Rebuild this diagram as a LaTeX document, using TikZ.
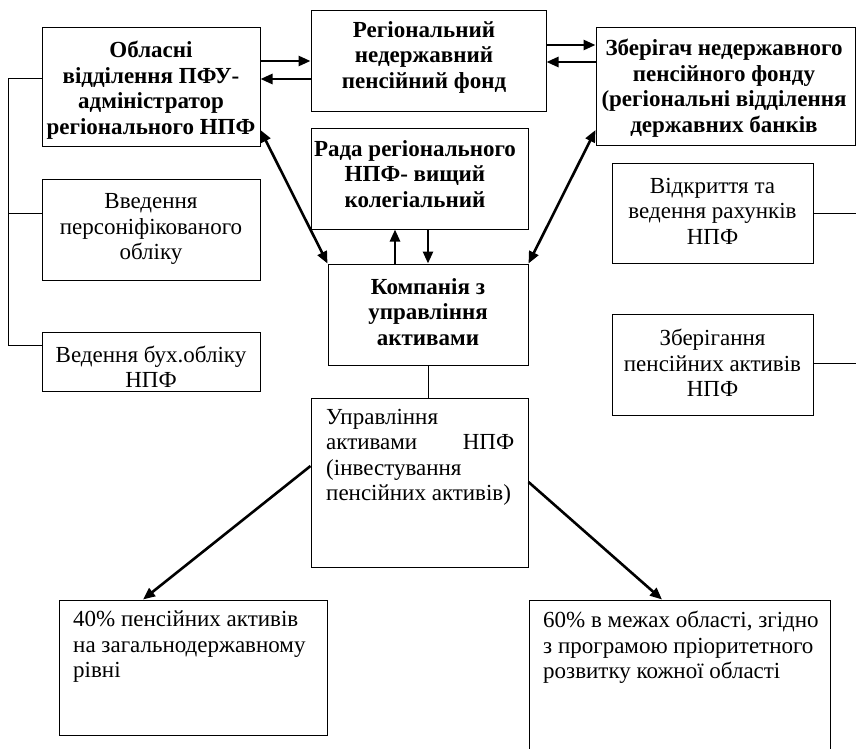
\documentclass[tikz,border=0pt]{standalone}
\usepackage{fontspec}
\setmainfont{Liberation Serif}
\usetikzlibrary{arrows.meta}
\begin{document}
\begin{tikzpicture}[x=1pt,y=-1pt,
  box/.style={draw,line width=1pt,inner sep=0pt},
  txt/.style={font=\fontsize{23}{25.5}\selectfont, align=center, inner sep=0pt},
  btxt/.style={font=\fontsize{23}{25.5}\selectfont\bfseries, align=center, inner sep=0pt},
  ltxt/.style={font=\fontsize{23}{25.5}\selectfont, align=flush left, inner sep=0pt, anchor=north west},
  thinline/.style={line width=1pt},
  arr/.style={line width=2.6pt,-{Triangle[length=12pt,width=10pt]}},
  darr/.style={line width=2.6pt,{Triangle[length=12pt,width=10pt]}-{Triangle[length=12pt,width=10pt]}}]
\clip (0,0) rectangle (856,749);
% boxes
\node[box, minimum width=218pt, minimum height=118pt] (A) at (151,87) {};
\node[box, minimum width=235pt, minimum height=101pt] (B) at (428.5,61.5) {};
\node[box, minimum width=259pt, minimum height=117pt] (C) at (725.5,86.5) {};
\node[box, minimum width=217pt, minimum height=100pt] (D) at (419.5,179) {};
\node[box, minimum width=200pt, minimum height=101pt] (E) at (428,314.5) {};
\node[box, minimum width=217pt, minimum height=169pt] (F) at (419.5,482.5) {};
\node[box, minimum width=268pt, minimum height=135pt] (G) at (193,667.5) {};
\node[box, minimum width=301pt, minimum height=180pt] (H) at (679.5,690) {};
\node[box, minimum width=218pt, minimum height=101pt] (I) at (151,229.5) {};
\node[box, minimum width=218pt, minimum height=59pt] (J) at (151,361.5) {};
\node[box, minimum width=201pt, minimum height=100pt] (K) at (712.5,213) {};
\node[box, minimum width=201pt, minimum height=101pt] (L) at (712.5,364.5) {};
% texts
\node[btxt] (tA) at (151,90) {Обласні\\відділення ПФУ-\\адміністратор\\регіонального НПФ};
\node[btxt] (tB) at (424,57) {Регіональний\\недержавний\\пенсійний фонд};
\node[btxt] (tC) at (724,88) {Зберігач недержавного\\пенсійного фонду\\(регіональні відділення\\державних банків};
\node[btxt] (tD) at (415,174) {Рада регіонального\\НПФ- вищий\\колегіальний};
\node[btxt] (tE) at (428,312) {Компанія з\\управління\\активами};
\node[txt] (tI) at (151,229) {Введення\\персоніфікованого\\обліку};
\node[txt] (tJ) at (151,367) {Ведення бух.обліку\\НПФ};
\node[txt] (tK) at (712.5,211) {Відкриття та\\ведення рахунків\\НПФ};
\node[txt] (tL) at (712.5,363) {Зберігання\\пенсійних активів\\НПФ};
\node[ltxt, text width=188pt] (tF) at (326,409) {Управління\\активами\hfill НПФ\\(інвестування\\пенсійних активів)};
\node[ltxt, text width=250pt] (tG) at (73,611) {40\% пенсійних активів\\на загальнодержавному\\рівні};
\node[ltxt, text width=285pt] (tH) at (543,611) {60\% в межах області, згідно\\з програмою пріоритетного\\розвитку кожної області};
% helper coordinates
\coordinate (h45) at (0,45);
\coordinate (h61) at (0,61);
\coordinate (h62) at (0,62);
\coordinate (h79) at (0,79);
\coordinate (h130) at (0,130);
\coordinate (h213) at (0,213);
\coordinate (h345) at (0,345);
\coordinate (h363) at (0,363);
\coordinate (h466) at (0,466);
\coordinate (h482) at (0,482);
\coordinate (v143) at (143,0);
\coordinate (v395) at (395,0);
\coordinate (v428) at (428,0);
\coordinate (v662) at (662,0);
\coordinate (lx) at (8,0);
\coordinate (rx) at (857,0);
% connectors
\draw[arr] (A.east |- h61) -- (B.west |- h61);
\draw[arr] (B.west |- h79) -- (A.east |- h79);
\draw[arr] (B.east |- h45) -- (C.west |- h45);
\draw[arr] (C.west |- h62) -- (B.east |- h62);
\draw[arr] (E.north -| v395) -- (D.south -| v395);
\draw[arr] (D.south -| v428) -- (E.north -| v428);
\draw[darr] (A.east |- h130) -- (E.north west);
\draw[darr] (C.west |- h130) -- (E.north east);
\draw[thinline] (E.south -| v428) -- (F.north -| v428);
\draw[arr] (F.west |- h466) -- (G.north -| v143);
\draw[arr] (F.east |- h482) -- (H.north -| v662);
\draw[thinline] (A.west |- h79) -| (lx |- h345) -- (J.west |- h345);
\draw[thinline] (lx |- h213) -- (I.west |- h213);
\draw[thinline] (K.east |- h213) -- (rx |- h213);
\draw[thinline] (L.east |- h363) -- (rx |- h363);
\end{tikzpicture}
\end{document}
